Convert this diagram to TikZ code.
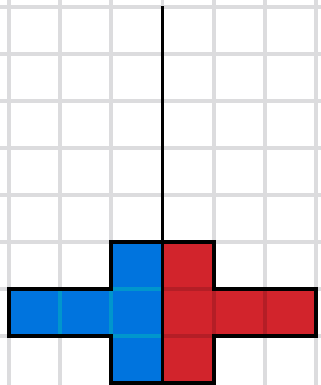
\documentclass[tikz,border=0pt]{standalone}
\definecolor{gridgray}{RGB}{220,220,222}
\definecolor{netblue}{RGB}{0,116,222}
\definecolor{netred}{RGB}{210,36,44}
\definecolor{blueseam}{RGB}{0,150,205}
\definecolor{redseam}{RGB}{180,30,38}
\begin{document}
\begin{tikzpicture}[
    x=1cm, y=0.919cm,
    gridline/.style={draw=gridgray, line width=2.1pt},
    seam/.style={line width=2.1pt},
    outline/.style={draw=black, line width=2.1pt, line join=miter},
    axis/.style={draw=black, line width=1.7pt}
]
\useasboundingbox (-0.175,-0.04) rectangle (6.097,8.148);
% background grid
\foreach \i in {0,...,6} {
    \draw[gridline] (\i,-0.2) -- (\i,8.4);
}
\foreach \j in {1,...,8} {
    \draw[gridline] (-0.4,\j) -- (6.4,\j);
}
% two halves of the net
\fill[netblue] (2,0) -- (2,1) -- (0,1) -- (0,2) -- (2,2) -- (2,3) -- (3,3) -- (3,0) -- cycle;
\fill[netred] (4,0) -- (4,1) -- (6,1) -- (6,2) -- (4,2) -- (4,3) -- (3,3) -- (3,0) -- cycle;
\foreach \a/\b/\c/\d/\clr in {%
    1/1/1/2/blueseam, 2/1/2/2/blueseam, 2/1/3/1/blueseam, 2/2/3/2/blueseam,
    5/1/5/2/redseam, 4/1/4/2/redseam, 3/1/4/1/redseam, 3/2/4/2/redseam%
} {
    \draw[seam, \clr] (\a,\b) -- (\c,\d);
}
\draw[outline] (2,0) -- (2,1) -- (0,1) -- (0,2) -- (2,2) -- (2,3) -- (4,3)
    -- (4,2) -- (6,2) -- (6,1) -- (4,1) -- (4,0) -- cycle;
% mirror line
\coordinate (top) at (3,8.02);
\coordinate (foot) at (3,-0.1);
\draw[axis] (foot) -- (top);
\end{tikzpicture}
\end{document}
